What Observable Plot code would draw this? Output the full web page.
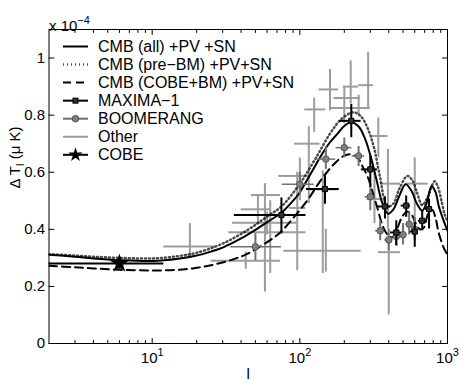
<!DOCTYPE html>
<html><head><meta charset="utf-8">
<script src="https://cdn.jsdelivr.net/npm/d3@7"></script>
<script src="https://cdn.jsdelivr.net/npm/@observablehq/plot@0.6"></script>
<style>body{margin:0;background:#fff;} #chart{width:463px;height:387px;}</style>
</head><body><div id="chart"></div>
<script>
// ---- theory curves (ΔT_l in units of 1e-4) ----
const solidL = [2, 3, 4, 6, 10, 15, 20, 25, 30, 40, 50, 60, 75, 90, 100, 120, 140, 160, 180, 200, 222, 250, 275, 300, 330, 360, 395, 430, 470, 520, 570, 620, 674, 720, 781, 830, 874, 927, 1000];
const solidV = [0.311, 0.304, 0.298, 0.292, 0.289, 0.297, 0.308, 0.322, 0.336, 0.368, 0.398, 0.425, 0.458, 0.5, 0.53, 0.6, 0.66, 0.705, 0.735, 0.762, 0.775, 0.76, 0.72, 0.66, 0.575, 0.495, 0.455, 0.47, 0.515, 0.558, 0.535, 0.49, 0.465, 0.49, 0.552, 0.53, 0.48, 0.44, 0.395];
const dotL = [2, 3, 4, 6, 10, 15, 20, 30, 45, 60, 75, 100, 130, 160, 190, 230, 260, 290, 320, 350, 390, 430, 470, 535, 580, 620, 674, 730, 818, 860, 910, 960, 1000];
const dotV = [0.313, 0.308, 0.304, 0.30, 0.298, 0.306, 0.318, 0.35, 0.40, 0.445, 0.48, 0.56, 0.655, 0.735, 0.785, 0.81, 0.795, 0.75, 0.68, 0.58, 0.48, 0.49, 0.54, 0.587, 0.57, 0.53, 0.485, 0.51, 0.568, 0.55, 0.50, 0.45, 0.43];
const dashL = [2, 3, 4, 6, 10, 15, 20, 26, 34, 44, 60, 74, 91, 112, 140, 170, 198, 220, 245, 267, 290, 311, 334, 360, 389, 424, 454, 491, 530, 570, 610, 650, 690, 740, 790, 830, 870, 940, 1000];
const dashV = [0.272, 0.267, 0.263, 0.258, 0.256, 0.258, 0.265, 0.276, 0.292, 0.314, 0.355, 0.39, 0.442, 0.50, 0.575, 0.628, 0.657, 0.663, 0.652, 0.618, 0.58, 0.53, 0.477, 0.419, 0.384, 0.372, 0.40, 0.442, 0.462, 0.452, 0.42, 0.40, 0.405, 0.455, 0.468, 0.44, 0.39, 0.337, 0.31];

// ---- MAXIMA-1 ----
const maxL  = [75, 148, 223, 300, 377, 450, 525, 600, 674, 750];
const maxV  = [0.45, 0.541, 0.78, 0.61, 0.48, 0.389, 0.483, 0.392, 0.43, 0.471];
const maxLo = [0.384, 0.488, 0.721, 0.547, 0.436, 0.343, 0.442, 0.337, 0.395, 0.401];
const maxHi = [0.51, 0.593, 0.838, 0.657, 0.514, 0.43, 0.517, 0.424, 0.465, 0.506];
const maxL0 = [36, 111, 186, 261, 336, 411, 486, 561, 636, 711];
const maxL1 = [110, 185, 260, 335, 410, 485, 560, 635, 710, 785];

// ---- BOOMERANG ----
const boomL  = [50, 100, 150, 200, 250, 300, 350, 400, 450, 500, 550, 600];
const boomV  = [0.339, 0.558, 0.646, 0.686, 0.657, 0.514, 0.395, 0.363, 0.375, 0.381, 0.418, 0.40];
const boomLo = [0.29, 0.52, 0.61, 0.65, 0.62, 0.465, 0.36, 0.325, 0.34, 0.345, 0.38, 0.36];
const boomHi = [0.385, 0.60, 0.69, 0.72, 0.69, 0.56, 0.43, 0.40, 0.41, 0.42, 0.46, 0.44];
const boomL0 = [34, 76, 126, 176, 226, 276, 326, 376, 426, 476, 526, 576];
const boomL1 = [75, 125, 175, 225, 275, 325, 375, 425, 475, 525, 575, 625];

// ---- Other experiments ----
const otherL  = [18, 63, 43, 58, 52, 96, 115, 143, 100, 125, 160, 200, 250, 290, 340, 400, 395, 600, 320, 150, 60, 221];
const otherV  = [0.34, 0.39, 0.29, 0.52, 0.47, 0.475, 0.70, 0.54, 0.587, 0.82, 0.89, 0.86, 0.825, 0.905, 0.727, 0.32, 0.56, 0.56, 0.506, 0.325, 0.423, 0.90];
const otherL0 = [12, 33, 25, 47, 40, 85, 92, 113, 72, 108, 135, 170, 162, 250, 310, 340, 352, 520, 285, 78, 35, 197];
const otherL1 = [27, 110, 74, 74, 63, 110, 137, 182, 118, 150, 183, 258, 300, 315, 395, 480, 481, 740, 352, 260, 96, 250];
const otherV0 = [0.30, 0.245, 0.26, 0.18, 0.42, 0.255, 0.49, 0.245, 0.50, 0.74, 0.815, 0.77, 0.80, 0.825, 0.65, 0.10, 0.40, 0.37, 0.42, 0.25, 0.38, 0.84];
const otherV1 = [0.42, 0.50, 0.32, 0.56, 0.52, 0.60, 0.76, 0.605, 0.65, 0.86, 0.96, 0.90, 0.87, 1.02, 0.79, 0.37, 0.68, 0.65, 0.60, 0.40, 0.46, 0.99];

// ---- COBE ----
const cobeL = [6], cobeV = [0.28], cobeLo = [0.26], cobeHi = [0.30], cobeL0 = [2], cobeL1 = [12];

// ---- ticks & labels ----
const xTicks = [10, 100, 1000];
const xTickLabels = ["10^{1}", "10^{2}", "10^{3}"];
const xMinor = [3,4,5,6,7,8,9,20,30,40,50,60,70,80,90,200,300,400,500,600,700,800,900];
const yTicks = [0, 0.2, 0.4, 0.6, 0.8, 1];
const yTickLabels = ["0", "0.2", "0.4", "0.6", "0.8", "1"];
const legendLabels = ["CMB (all) +PV +SN", "CMB (pre\u2212BM) +PV+SN", "CMB (COBE+BM) +PV+SN", "MAXIMA\u22121", "BOOMERANG", "Other", "COBE"];

const zipC = (L, V) => L.map((l, i) => ({l, v: V[i]}));
const solid = zipC(solidL, solidV), dotted = zipC(dotL, dotV), dashed = zipC(dashL, dashV);
const errs = (L, V, Lo, Hi, L0, L1) => L.map((l, i) => ({l, v: V[i], v0: Lo[i], v1: Hi[i], l0: L0[i], l1: L1[i]}));
const maxima = errs(maxL, maxV, maxLo, maxHi, maxL0, maxL1);
const boom = errs(boomL, boomV, boomLo, boomHi, boomL0, boomL1);
const other = errs(otherL, otherV, otherV0, otherV1, otherL0, otherL1);
const cobe = errs(cobeL, cobeV, cobeLo, cobeHi, cobeL0, cobeL1);

const OTHER = "#9c9c9c", BOOM = "#707070";
// inward tick: a straight segment drawn from the frame edge along the vector direction
const tickShape = {draw(ctx, l) { ctx.moveTo(0, 0); ctx.lineTo(0, -l); }};
const tk = (data, ch, frameAnchor, rotate, length) =>
  Plot.vector(data, {[ch]: d => d, frameAnchor, rotate, length, anchor: "start", shape: tickShape, stroke: "black", strokeWidth: 1});

const svg = Plot.plot({
  width: 463, height: 387,
  marginLeft: 48.5, marginRight: 16, marginTop: 29, marginBottom: 44,
  style: {fontFamily: "'Liberation Sans', Arial, sans-serif", fontSize: "15px", background: "white", color: "black", overflow: "visible"},
  x: {type: "log", domain: [2, 1000], axis: null},
  y: {domain: [0, 1.1], axis: null},
  marks: [
    Plot.ruleX(other, {x: "l", y1: "v0", y2: "v1", stroke: OTHER, strokeWidth: 2}),
    Plot.ruleY(other, {y: "v", x1: "l0", x2: "l1", stroke: OTHER, strokeWidth: 2}),
    Plot.line(dotted, {x: "l", y: "v", curve: "catmull-rom", stroke: "black", strokeWidth: 2.5, strokeDasharray: "1,3", strokeOpacity: 0.7, clip: true}),
    Plot.line(dashed, {x: "l", y: "v", curve: "catmull-rom", stroke: "black", strokeWidth: 2, strokeDasharray: "8,5", clip: true}),
    Plot.line(solid, {x: "l", y: "v", curve: "catmull-rom", stroke: "black", strokeWidth: 2, clip: true}),
    Plot.ruleX(boom, {x: "l", y1: "v0", y2: "v1", stroke: BOOM, strokeWidth: 2}),
    Plot.ruleY(boom, {y: "v", x1: "l0", x2: "l1", stroke: BOOM, strokeWidth: 1.5}),
    Plot.dot(boom, {x: "l", y: "v", r: 3.3, fill: "#808080", stroke: "#555", strokeWidth: 1}),
    Plot.ruleX(maxima, {x: "l", y1: "v0", y2: "v1", stroke: "black", strokeWidth: 2}),
    Plot.ruleY(maxima, {y: "v", x1: "l0", x2: "l1", stroke: "black", strokeWidth: 2}),
    Plot.dot(maxima, {x: "l", y: "v", symbol: "square", r: 2.9, fill: "#333", stroke: "black", strokeWidth: 1}),
    Plot.ruleX(cobe, {x: "l", y1: "v0", y2: "v1", stroke: "black", strokeWidth: 2}),
    Plot.ruleY(cobe, {y: "v", x1: "l0", x2: "l1", stroke: "black", strokeWidth: 2}),
    Plot.dot(cobe, {x: "l", y: "v", symbol: "star", r: 4.5, fill: "black", stroke: "black"}),
    Plot.frame({stroke: "black", strokeWidth: 1}),
    tk(xTicks, "x", "bottom", 0, 5),
    tk(xMinor, "x", "bottom", 0, 3),
    tk(xTicks, "x", "top", 180, 5),
    tk(xMinor, "x", "top", 180, 3),
    tk(yTicks, "y", "left", 90, 5),
    tk(yTicks, "y", "right", -90, 5),
    Plot.text(xTicks, {x: d => d, text: (d, i) => xTickLabels[i], frameAnchor: "bottom", dy: 19.2, fontSize: 15, fill: "black"}),
    Plot.text(yTicks, {y: d => d, text: (d, i) => yTickLabels[i], frameAnchor: "left", textAnchor: "end", dx: -4, fontSize: 15, fill: "black"}),
    Plot.text(["l"], {text: d => d, frameAnchor: "bottom", dy: 35, fontSize: 15, fill: "black"}),
    Plot.text(["\u0394 T_{l} (\u03bc K)"], {text: d => d, frameAnchor: "left", rotate: -90, dx: -34, dy: 2, fontSize: 15, fill: "black"}),
    Plot.text(["x 10^{\u22124}"], {text: d => d, frameAnchor: "top-left", textAnchor: "start", dx: 0, dy: -9, fontSize: 15, fill: "black"})
  ]
});

// superscripts / subscripts as tspans
const NS = "http://www.w3.org/2000/svg";
svg.querySelectorAll("text").forEach(el => {
  const s = el.textContent;
  if (!/[\^_]\{/.test(s)) return;
  el.textContent = "";
  const re = /([\^_])\{([^}]*)\}/g;
  let last = 0, m, shift = 0;
  const add = (t, dy, size) => {
    const ts = document.createElementNS(NS, "tspan");
    ts.textContent = t;
    if (dy) ts.setAttribute("dy", dy);
    if (size) ts.setAttribute("font-size", size);
    el.appendChild(ts);
  };
  while ((m = re.exec(s))) {
    if (m.index > last) { add(s.slice(last, m.index), shift ? -shift : 0); shift = 0; }
    const d = m[1] === "^" ? -7 : 4;
    add(m[2], d, 11);
    shift = d;
    last = re.lastIndex;
  }
  if (last < s.length) add(s.slice(last), shift ? -shift : 0);
});

// legend
const g = d3.select(svg).append("g").attr("font-size", 16).attr("text-anchor", "start")
  .attr("font-family", "'Liberation Sans', Arial, sans-serif");
const styles = [
  {stroke: "black", w: 2},
  {stroke: "black", w: 2.5, dash: "1,3", op: 0.7},
  {stroke: "black", w: 2, dash: "8,5"},
  {stroke: "black", w: 2, sym: "square"},
  {stroke: BOOM, w: 2, sym: "circle"},
  {stroke: OTHER, w: 2},
  {stroke: "black", w: 2, sym: "star"}
];
legendLabels.forEach((lab, i) => {
  const y = 46.5 + 18.05 * i, st = styles[i];
  g.append("line").attr("x1", 63).attr("x2", 88).attr("y1", y).attr("y2", y)
    .attr("stroke", st.stroke).attr("stroke-width", st.w)
    .attr("stroke-dasharray", st.dash || null).attr("stroke-opacity", st.op || null);
  if (st.sym === "square") g.append("rect").attr("x", 73).attr("y", y - 2.5).attr("width", 5).attr("height", 5).attr("fill", "#333").attr("stroke", "black");
  if (st.sym === "circle") g.append("circle").attr("cx", 75.5).attr("cy", y).attr("r", 3.3).attr("fill", "#808080").attr("stroke", "#555");
  if (st.sym === "star") g.append("path").attr("transform", `translate(75.5,${y})`).attr("d", d3.symbol(d3.symbolStar, 4.5 * 4.5 * Math.PI)()).attr("fill", "black");
  g.append("text").attr("x", 98).attr("y", y).attr("dy", "0.35em").attr("fill", "black").attr("text-anchor", "start").text(lab);
});

document.getElementById("chart").appendChild(svg);
</script></body></html>
